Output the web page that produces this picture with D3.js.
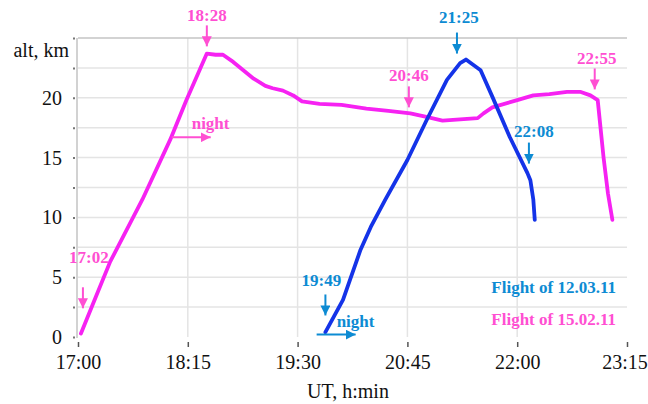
<!DOCTYPE html>
<html>
<head>
<meta charset="utf-8">
<script src="https://cdn.jsdelivr.net/npm/d3@7"></script>
<style>
  body { margin: 0; background: #fff; }
  svg { display: block; }
  svg text { font-family: "Times New Roman", Times, "Liberation Serif", Tinos, serif; }
</style>
</head>
<body>
<div id="chart"></div>
<script>
// Flight of 15.02.11 (pink)
const febTimes = ["17:02","17:12","17:22","17:44","18:03","18:14","18:23","18:28","18:34","18:39","18:46",
  "19:00","19:08","19:13","19:20","19:27","19:33","19:45","20:00","20:17","20:32","20:47","20:58",
  "21:09","21:21","21:33","21:37","21:43","22:00","22:11","22:22","22:34","22:43","22:50","22:55",
  "22:59","23:02","23:05"];
const febAlt = [0.3, 3.3, 6.3, 11.5, 16.5, 19.8, 22.3, 23.7, 23.6, 23.6, 23.0,
  21.6, 21.0, 20.8, 20.6, 20.2, 19.7, 19.5, 19.4, 19.1, 18.9, 18.7, 18.4,
  18.1, 18.2, 18.3, 18.7, 19.2, 19.8, 20.2, 20.3, 20.5, 20.5, 20.2, 19.8,
  15.0, 12.0, 9.8];

// Flight of 12.03.11 (blue)
const marTimes = ["19:49","20:01","20:13","20:20","20:30","20:45","20:58","21:12","21:21","21:25",
  "21:35","21:43","21:55","22:07","22:09","22:11","22:12"];
const marAlt = [0.4, 3.1, 7.3, 9.2, 11.5, 14.8, 18.1, 21.5, 22.9, 23.2,
  22.3, 20.1, 16.7, 13.7, 13.1, 11.5, 9.8];

// axis ticks
const timeTicks = ["17:00","18:15","19:30","20:45","22:00","23:15"];
const altTicks = [0, 2.5, 5, 7.5, 10, 12.5, 15, 17.5, 20, 22.5, 25];
const altLabels = [0, 5, 10, 15, 20];

// time marks: label, series, altitude the arrow points at
const markLabels = ["17:02","18:28","20:46","22:55","19:49","21:25","22:08"];
const markSeries = ["feb","feb","feb","feb","mar","mar","mar"];
const markAlt = [2.4, 24.3, 19.2, 20.7, 1.8, 23.7, 14.5];

// start of the "night" arrows
const nightStart = ["18:04","19:43"];
const nightSeries = ["feb","mar"];
const nightAlt = [16.7, 0.2];

const legendLabels = ["Flight of 12.03.11","Flight of 15.02.11"];
const legendSeries = ["mar","feb"];

const lineColor = { feb: "#f622f2", mar: "#1433e8" };
const textColor = { feb: "#ff4fd2", mar: "#0d8bd3" };

const W = 648, H = 404;
const margin = { top: 38, right: 21, bottom: 67, left: 78 };
const width = W - margin.left - margin.right;
const height = H - margin.top - margin.bottom;

const parse = d3.timeParse("%H:%M");

const x = d3.scaleTime()
  .domain([parse("17:00"), parse("23:15")])
  .range([0, width]);
const y = d3.scaleLinear()
  .domain([0, 25])
  .range([height, 0]);

const svg = d3.select("#chart").append("svg")
  .attr("width", W)
  .attr("height", H);

const defs = svg.append("defs");
["feb","mar"].forEach(function(k) {
  defs.append("marker")
    .attr("id", "arrow-" + k)
    .attr("viewBox", "0 0 10 10")
    .attr("refX", 10).attr("refY", 5)
    .attr("markerWidth", 10).attr("markerHeight", 10)
    .attr("markerUnits", "userSpaceOnUse")
    .attr("orient", "auto")
    .append("path")
    .attr("d", "M0,0 L10,5 L0,10 Z")
    .attr("fill", textColor[k]);
});

const g = svg.append("g")
  .attr("transform", "translate(" + margin.left + "," + margin.top + ")");

// horizontal gridlines
g.selectAll(".hgrid")
  .data(altTicks.filter(function(d) { return d > 0 && d < 25; }))
  .enter().append("line")
  .attr("x1", 0).attr("x2", width)
  .attr("y1", function(d) { return y(d); })
  .attr("y2", function(d) { return y(d); })
  .attr("stroke", "#e4e4e4")
  .attr("stroke-width", 1.5);

// vertical gridlines
g.selectAll(".vgrid")
  .data(timeTicks.slice(1, -1))
  .enter().append("line")
  .attr("x1", function(d) { return x(parse(d)); })
  .attr("x2", function(d) { return x(parse(d)); })
  .attr("y1", 0).attr("y2", height)
  .attr("stroke", "#e4e4e4")
  .attr("stroke-width", 1.5);

// top border
g.append("line")
  .attr("x1", 0).attr("x2", width)
  .attr("y1", y(25)).attr("y2", y(25))
  .attr("stroke", "#c4c4c4")
  .attr("stroke-width", 1.5);

// left axis line
g.append("line")
  .attr("x1", -1).attr("x2", -1)
  .attr("y1", y(25)).attr("y2", height + 1)
  .attr("stroke", "#d2d2d2")
  .attr("stroke-width", 2);

// y axis
const yAxis = d3.axisLeft(y)
  .tickValues(altTicks)
  .tickSize(2)
  .tickPadding(11)
  .tickFormat(function(d) { return altLabels.indexOf(d) >= 0 ? d : ""; });

const yG = g.append("g")
  .attr("transform", "translate(-3,0)")
  .call(yAxis)
  .attr("font-family", null);
yG.select(".domain").remove();
yG.selectAll(".tick line").attr("stroke", "#777").attr("stroke-width", 2);
yG.selectAll(".tick text")
  .attr("font-size", 20)
  .attr("fill", "#111");

// x axis
const xAxis = d3.axisBottom(x)
  .tickValues(timeTicks.map(parse))
  .tickSize(5)
  .tickPadding(8)
  .tickFormat(d3.timeFormat("%H:%M"));

const xG = g.append("g")
  .attr("transform", "translate(0," + (height + 5) + ")")
  .call(xAxis)
  .attr("font-family", null);
xG.select(".domain").remove();
xG.selectAll(".tick line").attr("stroke", "#555").attr("stroke-width", 1.5);
xG.selectAll(".tick text")
  .attr("font-size", 20)
  .attr("fill", "#111")
  .attr("dx", function(d, i) { return i === timeTicks.length - 1 ? -2.5 : 0; });

// axis titles
svg.append("text")
  .attr("x", 69).attr("y", 57)
  .attr("text-anchor", "end")
  .attr("font-size", 20)
  .attr("fill", "#111")
  .text("alt, km");

svg.append("text")
  .attr("x", 348).attr("y", 398)
  .attr("text-anchor", "middle")
  .attr("font-size", 20)
  .attr("fill", "#111")
  .text("UT, h:min");

// flight lines
const line = d3.line()
  .x(function(d) { return x(d.t); })
  .y(function(d) { return y(d.alt); });

const series = {
  feb: febTimes.map(function(t, i) { return { t: parse(t), alt: febAlt[i] }; }),
  mar: marTimes.map(function(t, i) { return { t: parse(t), alt: marAlt[i] }; })
};

["feb","mar"].forEach(function(k) {
  g.append("path")
    .datum(series[k])
    .attr("fill", "none")
    .attr("stroke", lineColor[k])
    .attr("stroke-width", 3.8)
    .attr("stroke-linejoin", "round")
    .attr("stroke-linecap", "round")
    .attr("d", line);
});

// time marks with down arrows
const markDx = { "17:02": 2, "21:25": -9, "22:55": -3 };
const textDx = { "17:02": 6, "21:25": 2, "22:55": 2, "22:08": 5, "19:49": -4 };
const textGap = { "17:02": 24, "18:28": 4, "20:46": 5, "22:55": 4, "19:49": 8, "21:25": 10, "22:08": 6 };

markLabels.forEach(function(lbl, i) {
  const k = markSeries[i];
  const ax = x(parse(lbl)) + (markDx[lbl] || 0);
  const tipY = y(markAlt[i]);
  g.append("line")
    .attr("x1", ax).attr("x2", ax)
    .attr("y1", tipY - 21).attr("y2", tipY)
    .attr("stroke", textColor[k])
    .attr("stroke-width", 2)
    .attr("marker-end", "url(#arrow-" + k + ")");
  g.append("text")
    .attr("x", ax + (textDx[lbl] || 0))
    .attr("y", tipY - 21 - textGap[lbl])
    .attr("text-anchor", "middle")
    .attr("font-size", 17)
    .attr("font-weight", "bold")
    .attr("fill", textColor[k])
    .text(lbl);
});

// "night" arrows
nightStart.forEach(function(t, i) {
  const k = nightSeries[i];
  const x0 = x(parse(t));
  const yy = y(nightAlt[i]);
  g.append("line")
    .attr("x1", x0).attr("x2", x0 + 39)
    .attr("y1", yy).attr("y2", yy)
    .attr("stroke", textColor[k])
    .attr("stroke-width", 2)
    .attr("marker-end", "url(#arrow-" + k + ")");
  g.append("text")
    .attr("x", x0 + 20)
    .attr("y", yy - 8)
    .attr("font-size", 17)
    .attr("font-weight", "bold")
    .attr("fill", textColor[k])
    .text("night");
});

// legend
legendLabels.forEach(function(lbl, i) {
  svg.append("text")
    .attr("x", 616)
    .attr("y", 293 + i * 32)
    .attr("text-anchor", "end")
    .attr("font-size", 17)
    .attr("font-weight", "bold")
    .attr("fill", textColor[legendSeries[i]])
    .text(lbl);
});
</script>
</body>
</html>
